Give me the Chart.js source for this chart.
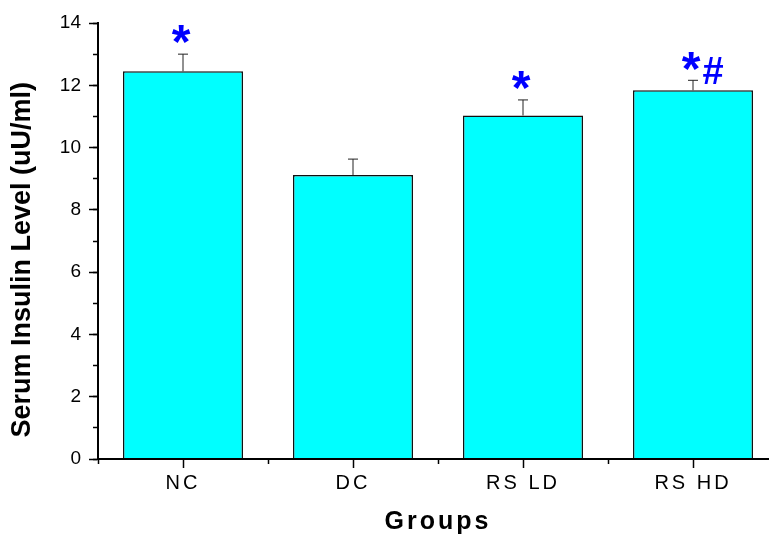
<!DOCTYPE html>
<html>
<head>
<meta charset="utf-8">
<script src="https://cdn.jsdelivr.net/npm/chart.js@4"></script>
<style>
  html, body { margin: 0; padding: 0; background: #fff; overflow: hidden; }
  canvas { display: block; }
</style>
</head>
<body>
<canvas id="chart" width="790" height="535"></canvas>
<script>
// Данные графика
const groups = ['NC', 'DC', 'RS LD', 'RS HD'];
const insulin = [12.45, 9.12, 11.03, 11.84];
const sd = [0.55, 0.51, 0.50, 0.32];
const marks = ['*', '', '*', '*#'];

const FONT = '"Liberation Sans", Arial, sans-serif';

// Планки погрешностей и звёздочки над столбцами
const errorBars = {
  id: 'errorBars',
  beforeDraw(chart) {
    chart.ctx.letterSpacing = '0px';
  },
  afterDatasetsDraw(chart) {
    const ctx = chart.ctx;
    const meta = chart.getDatasetMeta(0);
    const y = chart.scales.y;
    ctx.save();
    meta.data.forEach((bar, i) => {
      const x = bar.x;
      const top = y.getPixelForValue(insulin[i] + sd[i]);
      ctx.strokeStyle = '#222';
      ctx.lineWidth = 1;
      ctx.beginPath();
      ctx.moveTo(x, bar.y);
      ctx.lineTo(x, top);
      ctx.moveTo(x - 5, top);
      ctx.lineTo(x + 5, top);
      ctx.stroke();

      const m = marks[i];
      if (!m) return;
      ctx.fillStyle = '#0000ff';
      ctx.textAlign = 'center';
      ctx.textBaseline = 'middle';
      ctx.font = 'bold 48px ' + FONT;
      ctx.fillText('*', x - 2, top - 9);
      if (m.includes('#')) {
        ctx.font = 'bold 38px ' + FONT;
        ctx.fillText('#', x + 20, top - 7);
      }
    });
    ctx.restore();
    // разрядка для подписей оси X (ось рисуется после столбцов)
    ctx.letterSpacing = '3px';
  }
};

new Chart(document.getElementById('chart'), {
  type: 'bar',
  data: {
    labels: groups,
    datasets: [{
      data: insulin,
      backgroundColor: '#00ffff',
      borderColor: '#111',
      borderWidth: 1.5,
      borderSkipped: 'bottom',
      categoryPercentage: 1,
      barPercentage: 0.706
    }]
  },
  options: {
    responsive: false,
    animation: false,
    devicePixelRatio: 1,
    layout: { padding: { top: 23, right: 12, left: 0, bottom: 0 } },
    plugins: { legend: { display: false }, tooltip: { enabled: false } },
    scales: {
      x: {
        weight: 1,
        grid: { z: 1, offset: true, drawOnChartArea: false, tickLength: 5, color: '#000', tickWidth: 1.5 },
        border: { z: 1, display: true, color: '#000', width: 2 },
        ticks: { z: 1, color: '#000', font: { family: FONT, size: 20 }, padding: 7 },
        title: { display: true, text: 'Groups', color: '#000', font: { family: FONT, size: 25, weight: 'bold', lineHeight: 1 }, padding: 0 },
        afterFit(s) { s.height = 76; }
      },
      x2: {
        type: 'category',
        position: 'bottom',
        weight: 0,
        offset: true,
        grid: { offset: false, drawOnChartArea: false, tickLength: 9, color: '#000', tickWidth: 1.5 },
        border: { display: false },
        ticks: { display: false },
        afterFit(s) { s.height = 0; }
      },
      y: {
        weight: 1,
        min: 0,
        max: 14,
        grid: { drawOnChartArea: false, tickLength: 9, color: '#000', tickWidth: 1.5 },
        border: { display: true, color: '#000', width: 2 },
        ticks: { stepSize: 2, color: '#000', font: { family: FONT, size: 19 }, padding: 8 },
        title: { display: true, text: 'Serum Insulin Level (uU/ml)     ', color: '#000', font: { family: FONT, size: 27, weight: 'bold' }, padding: { top: 6, bottom: 0 } },
        afterFit(s) { s.width = 98; }
      },
      y2: {
        position: 'left',
        weight: 0,
        min: 0,
        max: 14,
        grid: { drawOnChartArea: false, tickLength: 5, color: '#000', tickWidth: 1.5 },
        border: { display: false },
        ticks: { stepSize: 1, display: false },
        afterFit(s) { s.width = 0; }
      }
    }
  },
  plugins: [errorBars]
});
</script>
</body>
</html>
